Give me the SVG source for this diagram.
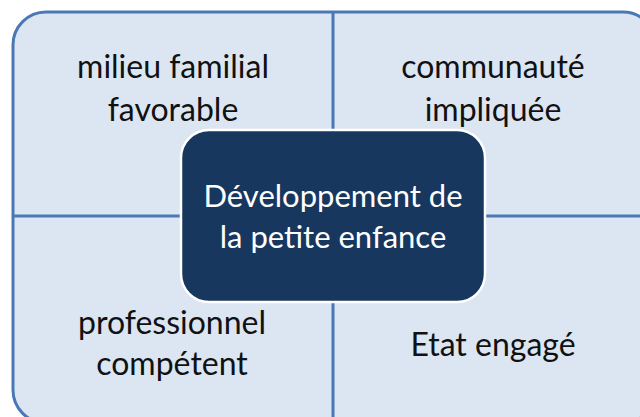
<svg xmlns="http://www.w3.org/2000/svg" width="640" height="417" viewBox="0 0 640 417">
  <style>
    .frame { fill: #dce6f2; stroke: #4a78b4; stroke-width: 3; }
    .divider { stroke: #4a78b4; stroke-width: 3; fill: none; }
    .label { font-family: Lato, "Liberation Sans", sans-serif; font-size: 32px; fill: #111111; text-anchor: middle; }
    .core { fill: #17375e; stroke: #ffffff; stroke-width: 2.5; }
    .core-label { font-family: Lato, "Liberation Sans", sans-serif; font-size: 31px; fill: #ffffff; text-anchor: middle; }
  </style>

  <!-- outer frame -->
  <g id="frame">
    <rect class="frame" x="13" y="12" width="643" height="411" rx="33" ry="33"/>
  </g>

  <!-- quadrant dividers -->
  <g id="connectors">
    <line class="divider" x1="333" y1="12" x2="333" y2="423"/>
    <line class="divider" x1="13" y1="216" x2="656" y2="216"/>
  </g>

  <g id="milieu-familial">
    <text class="label" x="173" y="78">milieu familial</text>
    <text class="label" x="173" y="121">favorable</text>
  </g>

  <g id="communaute">
    <text class="label" x="493" y="78">communauté</text>
    <text class="label" x="493" y="121">impliquée</text>
  </g>

  <g id="professionnel">
    <text class="label" x="172" y="334">professionnel</text>
    <text class="label" x="172" y="375">compétent</text>
  </g>

  <g id="etat">
    <text class="label" x="493" y="356">Etat engagé</text>
  </g>

  <!-- central node -->
  <g id="developpement">
    <rect class="core" x="181" y="130" width="304" height="172" rx="28" ry="28"/>
    <text class="core-label" x="333" y="207">Développement de</text>
    <text class="core-label" x="333" y="248">la petite enfance</text>
  </g>
</svg>
